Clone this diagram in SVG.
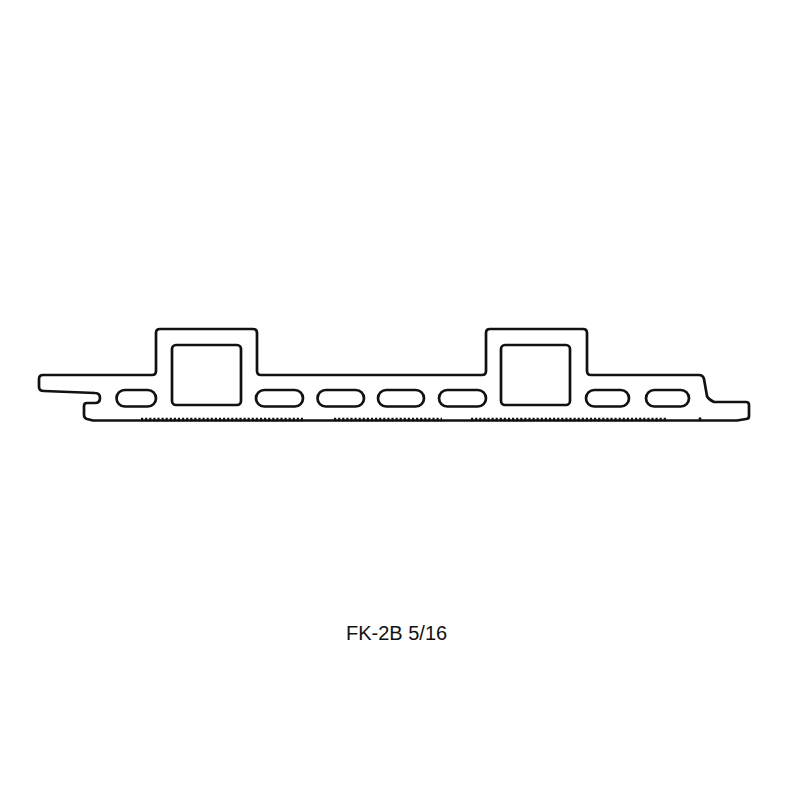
<svg xmlns="http://www.w3.org/2000/svg" width="800" height="800" viewBox="0 0 800 800">
<style>
.l{fill:none;stroke:#111;stroke-width:2.7;stroke-linejoin:round;stroke-linecap:round}
.s{fill:none;stroke:#111;stroke-width:3.4;stroke-dasharray:2.200 1.900}
text{font-family:"Liberation Sans",Arial,sans-serif;font-size:20px;fill:#111}
</style>
<rect width="800" height="800" fill="#fff"/>
<g id="profile">
<path class="l" d="M43 375H152Q156 375 156 371V333Q156 329 160 329H253Q257 329 257 333V371Q257 375 261 375H482Q486 375 486 371V333Q486 329 490 329H583Q587 329 587 333V371Q587 375 591 375H699Q703 375 704 379L707 396Q708 399 714 402H746Q749 402 749 405V416Q749 419 746 419L737 420.500H93L87 419Q84 418 84 415V406Q84 403 87 403H95Q100 403 100 398Q100 393 95 393L44 391Q39 391 39 387V379Q39 375 43 375Z"/>
<path class="s" d="M141 419.500H303M334 419.500H442M471 419.500H667"/>
<path class="l" d="M700 418.500V419.500"/>
</g>
<g id="chambers">
<rect class="l" x="172" y="345" width="69" height="60" rx="4"/>
<rect class="l" x="501" y="345" width="69" height="60" rx="4"/>
</g>
<g id="slots">
<rect class="l" x="116.500" y="390" width="39.500" height="16.500" rx="8.250"/>
<rect class="l" x="256" y="390" width="47" height="16.500" rx="8.250"/>
<rect class="l" x="317.500" y="390" width="46.500" height="16.500" rx="8.250"/>
<rect class="l" x="378" y="390" width="46" height="16.500" rx="8.250"/>
<rect class="l" x="439" y="390" width="47" height="16.500" rx="8.250"/>
<rect class="l" x="586" y="390" width="43" height="16.500" rx="8.250"/>
<rect class="l" x="646" y="390" width="43" height="16.500" rx="8.250"/>
</g>
<text x="346" y="640">FK-2B 5/16</text>
</svg>
